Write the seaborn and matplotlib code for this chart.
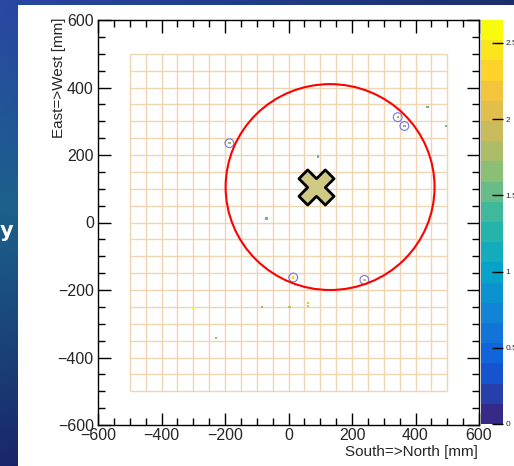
import numpy as np
import pandas as pd
import matplotlib
matplotlib.use("Agg")
import matplotlib.pyplot as plt
import seaborn as sns
from matplotlib.colors import LinearSegmentedColormap, ListedColormap, BoundaryNorm
from matplotlib.patches import Ellipse, Rectangle
from matplotlib.ticker import MultipleLocator
from matplotlib.cm import ScalarMappable

# --- hit map: occupied cells (mm) and their contents ---
hit_x = [-186, 93, 344, 365, 438, 496, -69, 15, 239, 62, 62, -84, 3, -300, -229]
hit_y = [235, 195, 312, 286, 343, 286, 12, -163, -170, -239, -248, -251, -251, -257, -343]
hit_z = [1.6, 1.5, 1.6, 1.6, 1.5, 1.5, 1.5, 2.3, 2.1, 2.0, 2.0, 1.6, 1.9, 2.6, 1.7]

# hits selected for the ring fit
ring_x = [-186, 344, 365, 15, 239]
ring_y = [235, 312, 286, -163, -170]

# fitted ring (centre and semi-axes, mm)
ring_cx, ring_cy = 131, 105
ring_rx, ring_ry = 329, 305

# beam position (mm)
beam_x = [86]
beam_y = [106]

# detector segmentation: 20 x 20 cells of 50 mm
seg_lo, seg_hi, seg_step = -500, 500, 50

# colour scale
z_max = 2.65
n_levels = 20
cbar_ticks = [0, 0.5, 1, 1.5, 2, 2.5]
cbar_labels = ["0", "0.5", "1", "1.5", "2", "2.5"]

x_title = "South=>North [mm]"
y_title = "East=>West [mm]"

# ROOT "bird" palette
bird_stops = [0.0, 0.125, 0.25, 0.375, 0.5, 0.625, 0.75, 0.875, 1.0]
bird_r = [0.2082, 0.0592, 0.0780, 0.0232, 0.1802, 0.5301, 0.8186, 0.9956, 0.9764]
bird_g = [0.1664, 0.3599, 0.5041, 0.6419, 0.7178, 0.7492, 0.7328, 0.7862, 0.9832]
bird_b = [0.5293, 0.8684, 0.8385, 0.7914, 0.6425, 0.4662, 0.3499, 0.1968, 0.0539]
bird = LinearSegmentedColormap.from_list(
    "bird", list(zip(bird_stops, zip(bird_r, bird_g, bird_b))))
cmap = ListedColormap(bird(np.linspace(0, 1, n_levels)))
levels = np.linspace(0, z_max, n_levels + 1)
norm = BoundaryNorm(levels, n_levels)

sns.set_style("ticks")
plt.rcParams["font.family"] = ["Liberation Sans", "DejaVu Sans"]

W, H = 514, 466
fig = plt.figure(figsize=(W / 100, H / 100), dpi=100)

# slide backdrop behind the canvas
bg = fig.add_axes([0, 0, 1, 1], zorder=-10)
rows = np.linspace(0, 1, H)[:, None]
top_c = np.array([0.16, 0.28, 0.64])
mid_c = np.array([0.11, 0.38, 0.55])
bot_c = np.array([0.10, 0.15, 0.42])
col = np.where(rows < 0.45,
               top_c + (mid_c - top_c) * (rows / 0.45),
               mid_c + (bot_c - mid_c) * ((rows - 0.45) / 0.55))
shade = 1 - 0.35 * np.linspace(0, 1, W)[None, :, None]
img = col[:, None, :] * shade
bg.imshow(np.clip(img, 0, 1), extent=[0, W, H, 0], aspect="auto")
bg.add_patch(Rectangle((18, 5), W - 18, H - 5, facecolor="white", edgecolor="none"))
bg.set_xlim(0, W)
bg.set_ylim(H, 0)
bg.axis("off")
fig.text(13 / W, 1 - 231 / H, "y", color="white", fontsize=15, fontweight="bold",
         ha="right", va="center", family="DejaVu Sans")

ax = fig.add_axes([98 / W, 1 - 425 / H, 381 / W, 405 / H])
ax.set_axisbelow(False)

# segmentation grid
edges = np.arange(seg_lo, seg_hi + seg_step, seg_step)
ax.vlines(edges, seg_lo, seg_hi, color="#efd5b4", lw=1.0, zorder=1)
ax.hlines(edges, seg_lo, seg_hi, color="#efd5b4", lw=1.0, zorder=1)

hits = pd.DataFrame({"x": hit_x, "y": hit_y, "z": hit_z})
sns.scatterplot(data=hits, x="x", y="y", hue="z", palette=cmap, hue_norm=norm,
                marker="s", s=3.0, linewidth=0, legend=False, ax=ax, zorder=3)

sns.scatterplot(x=ring_x, y=ring_y, marker="o", s=40, facecolor="none",
                edgecolor="#7474e0", linewidth=0.8, ax=ax, zorder=4)

ax.add_patch(Ellipse((ring_cx, ring_cy), 2 * ring_rx, 2 * ring_ry, fill=False,
                     edgecolor="#ff0000", lw=1.5, zorder=5))

sns.scatterplot(x=beam_x, y=beam_y, marker="X", s=640, color="#cfc984",
                edgecolor="black", linewidth=2.0, ax=ax, zorder=6)

ax.set_xlim(-600, 600)
ax.set_ylim(-600, 600)
ax.set_xlabel("")
ax.set_ylabel("")
ax.xaxis.set_major_locator(MultipleLocator(200))
ax.yaxis.set_major_locator(MultipleLocator(200))
ax.xaxis.set_minor_locator(MultipleLocator(50))
ax.yaxis.set_minor_locator(MultipleLocator(50))
ax.tick_params(which="both", direction="in", top=True, right=True, width=1.0,
               color="black", labelsize=11.5, pad=3)
ax.tick_params(which="major", length=9)
ax.tick_params(which="minor", length=4.8)
ax.tick_params(axis="x", pad=2)
for sp in ax.spines.values():
    sp.set_color("black")
    sp.set_linewidth(1.0)
    sp.set_visible(True)

fig.text(59 / W, 1 - 18 / H, y_title, rotation=90, ha="center", va="top", fontsize=11)
fig.text(478 / W, 1 - 452 / H, x_title, ha="right", va="center", fontsize=11)

cax = fig.add_axes([481 / W, 1 - 424 / H, 22 / W, 404 / H])
cb = fig.colorbar(ScalarMappable(norm=norm, cmap=cmap), cax=cax, ticks=cbar_ticks)
cb.outline.set_visible(False)
cb.set_ticklabels(cbar_labels)
cax.set_axisbelow(False)
cax.yaxis.set_zorder(5)
cax.tick_params(direction="in", length=8, width=1.0, color="black", labelsize=6, pad=2)
cax.minorticks_off()

fig.savefig("out.png", dpi=100)
